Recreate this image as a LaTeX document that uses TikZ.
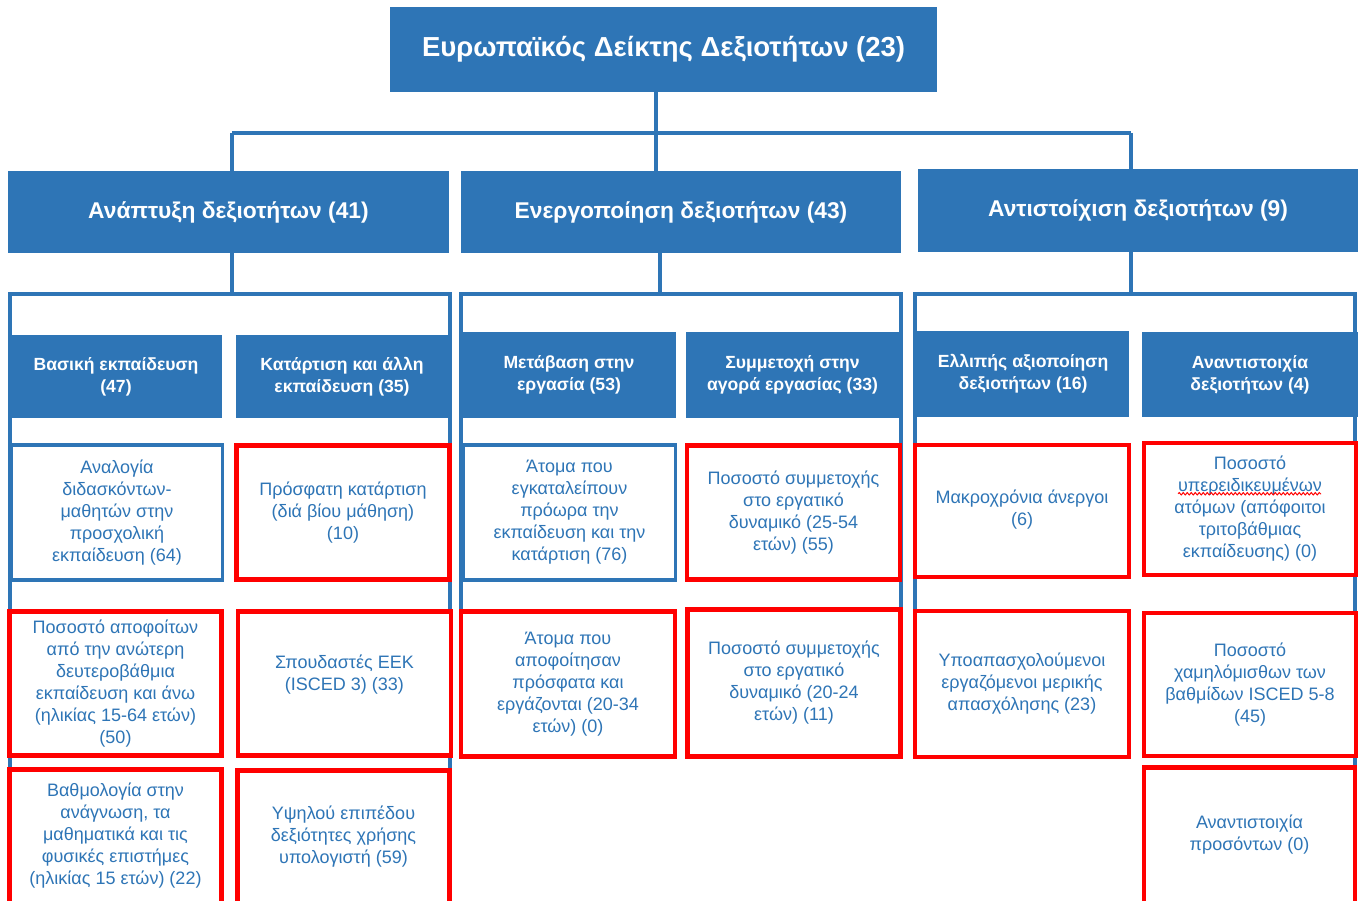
\documentclass[tikz,border=0pt]{standalone}
\usepackage{fontspec}
\setmainfont{Liberation Sans}
\usetikzlibrary{decorations.pathmorphing,calc}
\definecolor{obl}{HTML}{2E75B6}
\definecolor{ored}{HTML}{FF0000}
\begin{document}
\begin{tikzpicture}[x=1pt,y=-1pt,
  lvlone/.style={fill=obl,text=white,font=\bfseries\fontsize{27.5}{32}\selectfont,inner sep=0pt},
  lvltwo/.style={fill=obl,text=white,font=\bfseries\fontsize{22.8}{27}\selectfont,inner sep=0pt},
  hdr/.style={fill=obl,text=white,font=\bfseries\fontsize{17.6}{22}\selectfont,align=center,inner sep=0pt},
  bleaf/.style={draw=obl,line width=3.5pt,fill=white,text=obl,font=\fontsize{18}{22}\selectfont,align=center,inner sep=0pt},
  rleaf/.style={draw=ored,line width=4.5pt,fill=white,text=obl,font=\fontsize{18}{22}\selectfont,align=center,inner sep=0pt},
  conn/.style={draw=obl,line width=4pt},
  grpframe/.style={draw=obl,line width=4pt},
  sz/.style n args={2}{minimum width=#1pt,minimum height=#2pt}
]
\path[use as bounding box] (0,0) rectangle (1359,900);
\clip (0,0) rectangle (1359,900);

% ---------- level 1 and 2 ----------
\node[lvlone,sz={547}{85}] (top) at (663.5,49.5) {Ευρωπαϊκός Δείκτης Δεξιοτήτων (23)};
\node[lvltwo,sz={441}{82}] (b1) at (228.5,212) {Ανάπτυξη δεξιοτήτων (41)};
\node[lvltwo,sz={440}{82}] (b2) at (681,212) {Ενεργοποίηση δεξιοτήτων (43)};
\node[lvltwo,sz={440}{83}] (b3) at (1138,210.5) {Αντιστοίχιση δεξιοτήτων (9)};

\coordinate (bus0) at (656,133);
\coordinate (bus1) at (232,133);
\coordinate (bus3) at (1131,133);
\draw[conn] (top.south -| bus0) -- (bus0);
\draw[conn] (bus1) -- (bus3);
\draw[conn] (bus1) -- (b1.north -| bus1);
\draw[conn] (bus0) -- (b2.north -| bus0);
\draw[conn] (bus3) -- (b3.north -| bus3);

% ---------- group frames ----------
\coordinate (g1) at (232,294);
\coordinate (g2) at (660,294);
\coordinate (g3) at (1131,294);
\draw[grpframe] (9.5,905) -- (9.5,294) -- (449.5,294) -- (449.5,905);
\draw[grpframe] (461,757) -- (461,294) -- (900.5,294) -- (900.5,757);
\draw[grpframe] (915,757) -- (915,294) -- (1355,294) -- (1355,905);
\draw[conn] (b1.south -| g1) -- (g1);
\draw[conn] (b2.south -| g2) -- (g2);
\draw[conn] (b3.south -| g3) -- (g3);

% ---------- level 3 headers ----------
\node[hdr,sz={212}{83}] (h11) at (116,376.5) {Βασική εκπαίδευση\\(47)};
\node[hdr,sz={212}{83}] (h12) at (342,376.5) {Κατάρτιση και άλλη\\εκπαίδευση (35)};
\node[hdr,sz={214}{86}] (h21) at (569,375) {Μετάβαση στην\\εργασία (53)};
\node[hdr,sz={213}{86}] (h22) at (792.5,375) {Συμμετοχή στην\\αγορά εργασίας (33)};
\node[hdr,sz={212}{86}] (h31) at (1023,374) {Ελλιπής αξιοποίηση\\δεξιοτήτων (16)};
\node[hdr,sz={216}{85}] (h32) at (1250,374.5) {Αναντιστοιχία\\δεξιοτήτων (4)};

% ---------- row 1 ----------
\node[bleaf,sz={211}{135}] (A) at (117,512.5) {Αναλογία\\διδασκόντων-\\μαθητών στην\\προσχολική\\εκπαίδευση (64)};
\node[rleaf,sz={213}{134}] (B) at (343,512.5) {Πρόσφατη κατάρτιση\\(διά βίου μάθηση)\\(10)};
\node[bleaf,sz={212}{135}] (C) at (569.5,512.5) {Άτομα που\\εγκαταλείπουν\\πρόωρα την\\εκπαίδευση και την\\κατάρτιση (76)};
\node[rleaf,sz={213}{134}] (D) at (793.5,512.5) {Ποσοστό συμμετοχής\\στο εργατικό\\δυναμικό (25-54\\ετών) (55)};
\node[rleaf,sz={214}{132}] (E) at (1022,511) {Μακροχρόνια άνεργοι\\(6)\\[-16pt]~};
\node[rleaf,sz={212}{132}] (F) at (1250,509) {Ποσοστό\\υπερειδικευμένων\\ατόμων (απόφοιτοι\\τριτοβάθμιας\\εκπαίδευσης) (0)};
\draw[ored,line width=1pt,decorate,decoration={snake,amplitude=1.2pt,segment length=4pt}]
  ($(F.north)+(-72,53)$) -- ($(F.north)+(71,53)$);

% ---------- row 2 ----------
\node[rleaf,sz={212}{144}] (G) at (115.5,683.5) {Ποσοστό αποφοίτων\\από την ανώτερη\\δευτεροβάθμια\\εκπαίδευση και άνω\\(ηλικίας 15-64 ετών)\\(50)};
\node[rleaf,sz={213}{144}] (H) at (344.5,683.5) {Σπουδαστές ΕΕΚ\\(ISCED 3) (33)\\~};
\node[rleaf,sz={214}{145}] (I) at (568,684) {Άτομα που\\αποφοίτησαν\\πρόσφατα και\\εργάζονται (20-34\\ετών) (0)};
\node[rleaf,sz={213}{147}] (J) at (794,683) {Ποσοστό συμμετοχής\\στο εργατικό\\δυναμικό (20-24\\ετών) (11)};
\node[rleaf,sz={214}{146}] (K) at (1022,684) {Υποαπασχολούμενοι\\εργαζόμενοι μερικής\\απασχόλησης (23)};
\node[rleaf,sz={212}{143}] (L) at (1250,684.5) {Ποσοστό\\χαμηλόμισθων των\\βαθμίδων ISCED 5-8\\(45)};

% ---------- row 3 ----------
\node[rleaf,sz={212}{137}] (M) at (115.5,838) {Βαθμολογία στην\\ανάγνωση, τα\\μαθηματικά και τις\\φυσικές επιστήμες\\(ηλικίας 15 ετών) (22)\\[-14pt]~};
\node[rleaf,sz={212}{136}] (N) at (343.5,838.5) {Υψηλού επιπέδου\\δεξιότητες χρήσης\\υπολογιστή (59)\\[-14pt]~};
\node[rleaf,sz={211}{139}] (O) at (1249.5,837) {Αναντιστοιχία\\προσόντων (0)\\[-14pt]~};
\end{tikzpicture}
\end{document}
